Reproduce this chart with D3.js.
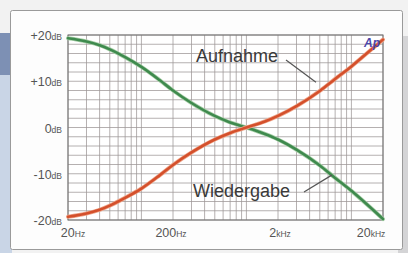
<!DOCTYPE html>
<html><head><meta charset="utf-8">
<script src="https://cdn.jsdelivr.net/npm/d3@7"></script>
<style>
html,body{margin:0;padding:0;background:#f3f3f3;}
svg{display:block;font-family:"Liberation Sans",Arial,sans-serif;}
</style></head>
<body><svg id="c" width="408" height="253"></svg>
<script>
// ---- data ----
const freqs      = [20, 30, 40, 50, 70, 100, 150, 200, 300, 500, 700, 1000, 1500, 2000, 3000, 5000, 7000, 10000, 15000, 20000];
const wiedergabe = [19.3, 18.6, 17.8, 16.9, 15.2, 13.1, 10.2, 8.0, 5.3, 2.5, 1.1, 0, -1.4, -2.6, -4.8, -8.2, -10.9, -13.7, -17.2, -19.8];
const aufnahme   = [-19.3, -18.6, -17.8, -16.9, -15.2, -13.2, -10.3, -8.1, -5.4, -2.6, -1.2, 0, 1.3, 2.5, 4.6, 7.9, 10.5, 13.2, 16.6, 19.0];
const yTickValues = [20, 10, 0, -10, -20];
const yTickLabels = ["+20", "+10", "0", "-10", "-20"];
const xTickValues = [20, 200, 2000, 20000];
const xTickLabels = ["20", "200", "2", "20"];
const xTickUnits  = ["Hz", "Hz", "kHz", "kHz"];
const seriesNames = ["Aufnahme", "Wiedergabe"];

const svg = d3.select("#c");

// background pieces
svg.append("rect").attr("x",0).attr("y",0).attr("width",408).attr("height",253).attr("fill","#f2f2f2");
svg.append("rect").attr("x",0).attr("y",33).attr("width",12).attr("height",42).attr("fill","#7d90b4");
svg.append("rect").attr("x",0).attr("y",75).attr("width",12).attr("height",178).attr("fill","#c9d5e6");
svg.append("rect").attr("x",398).attr("y",36).attr("width",10).attr("height",217).attr("fill","#d4d4d6");
svg.append("rect").attr("x",10.5).attr("y",10.5).attr("width",392).attr("height",239).attr("rx",2)
  .attr("fill","#fdfdfd").attr("stroke","#9a9a9a").attr("stroke-width",1);

const x = d3.scaleLog().domain([20, 20000]).range([68, 383]);
const y = d3.scaleLinear().domain([-20, 20]).range([220, 35]);

const plot = svg.append("g");
plot.append("rect").attr("x",x(20)).attr("y",y(20)).attr("width",x(20000)-x(20)).attr("height",y(-20)-y(20)).attr("fill","#fff");

// grid
plot.append("g").selectAll("line").data(x.ticks()).join("line")
  .attr("x1",d=>x(d)).attr("x2",d=>x(d)).attr("y1",y(20)).attr("y2",y(-20))
  .attr("stroke","#9c9696").attr("stroke-width",0.75);
plot.append("g").selectAll("line").data(y.ticks(20)).join("line")
  .attr("x1",x(20)).attr("x2",x(20000)).attr("y1",d=>y(d)).attr("y2",d=>y(d))
  .attr("stroke","#9c9696").attr("stroke-width",0.75);
plot.append("rect").attr("x",x(20)).attr("y",y(20)).attr("width",x(20000)-x(20)).attr("height",y(-20)-y(20))
  .attr("fill","none").attr("stroke","#707070").attr("stroke-width",1);

// y labels
const yl = svg.append("g").attr("fill","#555");
yTickValues.forEach((v,i)=>{
  const t = yl.append("text").attr("x",62).attr("y",y(v)+5).attr("text-anchor","end");
  t.append("tspan").attr("font-size","12.5px").text(yTickLabels[i]);
  t.append("tspan").attr("font-size","8.5px").text("dB");
});
// x labels
const xl = svg.append("g").attr("fill","#555");
const xOff = [5, -2, 2, -12];
xTickValues.forEach((v,i)=>{
  const t = xl.append("text").attr("x",x(v)+xOff[i]).attr("y",237).attr("text-anchor","middle");
  t.append("tspan").attr("font-size","12.5px").text(xTickLabels[i]);
  t.append("tspan").attr("font-size","8.5px").text(xTickUnits[i]);
});

// curves
const line = d3.line().x(d=>x(d[0])).y(d=>y(d[1])).curve(d3.curveMonotoneX);
const drawCurve = (vals, col, light) => {
  const pts = freqs.map((f,i)=>[f, vals[i]]);
  plot.append("path").attr("d",line(pts)).attr("fill","none").attr("stroke",light).attr("stroke-width",4).attr("stroke-linecap","round");
  plot.append("path").attr("d",line(pts)).attr("fill","none").attr("stroke",col).attr("stroke-width",2.6).attr("stroke-linecap","round");
};
drawCurve(wiedergabe, "#3f8a4e", "#a8cfa8");
drawCurve(aufnahme, "#d4502c", "#eea58a");

// annotations
const ann = svg.append("g");
ann.append("text").attr("x",196).attr("y",62).attr("font-size","18px").attr("fill","#3a3a3a").text(seriesNames[0]);
ann.append("line").attr("x1",286).attr("y1",60).attr("x2",x(4600)).attr("y2",y(9.8)).attr("stroke","#555").attr("stroke-width",1.2);
ann.append("text").attr("x",193).attr("y",197).attr("font-size","18px").attr("fill","#3a3a3a").text(seriesNames[1]);
ann.append("line").attr("x1",304).attr("y1",192).attr("x2",x(6500)).attr("y2",y(-10.3)).attr("stroke","#555").attr("stroke-width",1.2);

// Ap logo
svg.append("text").attr("x",364).attr("y",47).attr("font-size","12px").attr("font-weight","bold").attr("font-style","italic")
  .attr("fill","#4b45a8").text("Ap");
</script></body></html>
